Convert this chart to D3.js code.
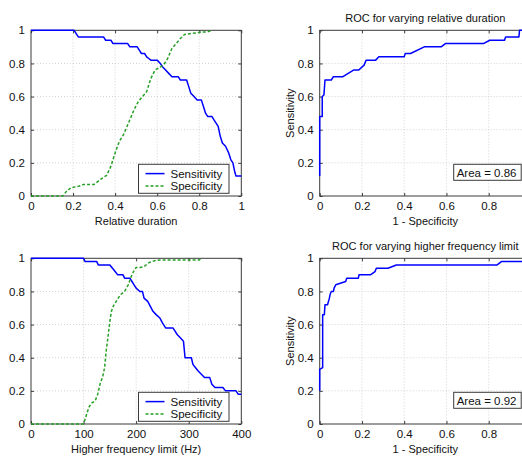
<!DOCTYPE html>
<html><head><meta charset="utf-8">
<script src="https://cdn.jsdelivr.net/npm/d3@7"></script>
<style>
body{margin:0;background:#fff}
svg{display:block;font-family:"Liberation Sans",Arial,Helvetica,sans-serif}
</style>
</head><body>
<svg id="chart" width="522" height="456"></svg>
<script>
// ---------- data ----------
const unitTicks = [0, 0.2, 0.4, 0.6, 0.8, 1];
const freqTicks = [0, 100, 200, 300, 400];

const durSensX = [0,0.205,0.225,0.345,0.355,0.38,0.39,0.46,0.47,0.505,0.515,0.525,0.54,0.55,0.56,0.57,0.60,0.615,0.625,0.64,0.655,0.67,0.70,0.71,0.74,0.75,0.76,0.775,0.79,0.81,0.82,0.83,0.84,0.86,0.87,0.88,0.89,0.90,0.91,0.925,0.94,0.95,0.96,0.97,0.975,1.0];
const durSensY = [1,1,0.96,0.96,0.94,0.94,0.92,0.92,0.90,0.90,0.88,0.86,0.86,0.84,0.83,0.82,0.82,0.80,0.78,0.76,0.74,0.72,0.72,0.70,0.70,0.66,0.62,0.60,0.58,0.58,0.54,0.50,0.48,0.48,0.46,0.44,0.42,0.36,0.32,0.30,0.26,0.22,0.20,0.14,0.12,0.12];

const durSpecX = [0,0.15,0.17,0.19,0.21,0.23,0.25,0.30,0.33,0.36,0.38,0.40,0.42,0.44,0.45,0.47,0.49,0.51,0.53,0.55,0.57,0.59,0.61,0.63,0.65,0.67,0.69,0.71,0.73,0.76,0.79,0.81,0.84,0.86];
const durSpecY = [0,0,0.03,0.05,0.055,0.06,0.07,0.07,0.10,0.125,0.18,0.26,0.33,0.37,0.40,0.46,0.52,0.57,0.60,0.63,0.71,0.76,0.775,0.79,0.83,0.89,0.92,0.95,0.975,0.98,0.985,0.99,0.99,1.0];

const freqSensX = [0,100,103,125,128,150,155,160,165,175,178,188,192,196,200,207,212,215,222,227,232,238,245,250,256,270,274,278,284,290,293,305,308,313,318,324,330,340,344,350,365,370,390,394,400];
const freqSensY = [1,1,0.98,0.98,0.96,0.96,0.94,0.92,0.90,0.90,0.88,0.88,0.86,0.84,0.82,0.80,0.80,0.76,0.74,0.71,0.68,0.66,0.64,0.61,0.58,0.58,0.56,0.54,0.52,0.50,0.40,0.40,0.36,0.34,0.32,0.30,0.28,0.28,0.24,0.22,0.22,0.20,0.20,0.18,0.18];

const freqSpecX = [0,100,105,110,115,122,127,132,136,140,143,147,150,153,157,163,170,178,185,190,195,200,207,215,225,235,245,320,325];
const freqSpecY = [0,0,0.05,0.10,0.125,0.14,0.18,0.25,0.28,0.34,0.44,0.54,0.62,0.68,0.715,0.745,0.78,0.80,0.84,0.885,0.92,0.945,0.945,0.95,0.975,0.985,0.99,0.99,1.0];

const rocDurX = [0,0,0.012,0.012,0.02,0.025,0.055,0.065,0.11,0.16,0.185,0.21,0.22,0.265,0.28,0.40,0.405,0.43,0.495,0.575,0.595,0.775,0.805,0.875,0.88,0.943,0.946,1.0];
const rocDurY = [0.12,0.48,0.48,0.60,0.61,0.70,0.70,0.72,0.72,0.76,0.76,0.79,0.82,0.82,0.84,0.84,0.86,0.86,0.90,0.90,0.92,0.92,0.94,0.94,0.96,0.96,1.0,1.0];

const rocFreqX = [0,0,0.014,0.014,0.022,0.025,0.037,0.045,0.05,0.055,0.065,0.068,0.076,0.123,0.128,0.183,0.186,0.24,0.262,0.268,0.323,0.363,0.84,0.86,1.0];
const rocFreqY = [0.20,0.33,0.34,0.66,0.66,0.72,0.72,0.755,0.785,0.80,0.80,0.82,0.84,0.86,0.88,0.88,0.90,0.90,0.92,0.94,0.94,0.96,0.96,0.98,0.98];

const areaDur = 0.86;
const areaFreq = 0.92;

// ---------- drawing ----------
const svg = d3.select("#chart");
const BLUE = "#0000ff", GREEN = "#27a027", BOX = "#3a3a3a";
const zip = (xs, ys) => xs.map((x, i) => [x, ys[i]]);
const fmt = d3.format("~g");

function panel(c) {
  const x = d3.scaleLinear().domain(c.xDomain).range([c.left, c.left + c.width]);
  const y = d3.scaleLinear().domain([0, 1]).range([c.top + c.height, c.top]);
  const g = svg.append("g");
  const xEdge = c.xDomain[1];

  g.append("rect").attr("x", c.left).attr("y", c.top).attr("width", c.width).attr("height", c.height)
    .attr("fill", "#fff");

  // grid
  g.selectAll(null).data(c.xTicks.slice(1, -1)).join("line")
    .attr("x1", d => x(d)).attr("x2", d => x(d)).attr("y1", c.top).attr("y2", c.top + c.height)
    .attr("stroke", "#c8c8c8").attr("stroke-width", 0.8).attr("stroke-dasharray", "1,2");
  g.selectAll(null).data(unitTicks.slice(1, -1)).join("line")
    .attr("y1", d => y(d)).attr("y2", d => y(d)).attr("x1", c.left).attr("x2", c.left + c.width)
    .attr("stroke", "#c8c8c8").attr("stroke-width", 0.8).attr("stroke-dasharray", "1,2");

  // axes (inward ticks, both sides)
  const tick = -3;
  // labels for ticks that fall outside the visible page are left blank
  const xFmt = d => (c.clipRight && d === xEdge) ? "" : fmt(d);
  g.append("g").attr("transform", `translate(0,${c.top + c.height})`)
    .call(d3.axisBottom(x).tickValues(c.xTicks).tickFormat(xFmt).tickSize(tick).tickPadding(6))
    .call(a => a.select(".domain").remove());
  g.append("g").attr("transform", `translate(0,${c.top})`)
    .call(d3.axisTop(x).tickValues(c.xTicks).tickFormat("").tickSize(tick))
    .call(a => a.select(".domain").remove());
  g.append("g").attr("transform", `translate(${c.left},0)`)
    .call(d3.axisLeft(y).tickValues(unitTicks).tickFormat(fmt).tickSize(tick).tickPadding(6))
    .call(a => a.select(".domain").remove());
  g.append("g").attr("transform", `translate(${c.left + c.width},0)`)
    .call(d3.axisRight(y).tickValues(unitTicks).tickFormat("").tickSize(tick))
    .call(a => a.select(".domain").remove());
  g.selectAll(".tick line").attr("stroke", BOX);
  g.selectAll(".tick text").attr("fill", "#111").style("font-size", "11.5px");

  g.append("rect").attr("x", c.left).attr("y", c.top).attr("width", c.width).attr("height", c.height)
    .attr("fill", "none").attr("stroke", BOX).attr("stroke-width", 1);

  // series
  const line = d3.line().x(d => x(d[0])).y(d => y(d[1]));
  c.series.forEach(s => {
    g.append("path").datum(zip(s.x, s.y)).attr("d", line)
      .attr("fill", "none").attr("stroke", s.color).attr("stroke-width", 1.5)
      .attr("stroke-linejoin", "round")
      .attr("stroke-dasharray", s.dash ? "3,2" : null);
  });

  // labels
  const cx = c.left + c.width / 2;
  g.append("text").attr("x", cx).attr("y", c.top + c.height + 28.5)
    .attr("text-anchor", "middle").style("font-size", "11px").attr("fill", "#111").text(c.xlabel);
  if (c.title) {
    g.append("text").attr("x", cx).attr("y", c.top - 8.5)
      .attr("text-anchor", "middle").style("font-size", "11px").attr("fill", "#111").text(c.title);
  }
  if (c.ylabel) {
    g.append("text").attr("transform", `translate(${c.left - 26},${c.top + c.height / 2}) rotate(-90)`)
      .attr("text-anchor", "middle").style("font-size", "11px").attr("fill", "#111").text(c.ylabel);
  }

  // legend
  if (c.legend) {
    const lx = c.left + 107.5, ly = c.top + 134;
    g.append("rect").attr("x", lx).attr("y", ly).attr("width", 90.5).attr("height", 29)
      .attr("fill", "#fff").attr("stroke", BOX).attr("stroke-width", 1);
    c.legend.forEach((s, i) => {
      const yy = ly + 9.3 + i * 12.4;
      g.append("line").attr("x1", lx + 7).attr("x2", lx + 26).attr("y1", yy).attr("y2", yy)
        .attr("stroke", s.color).attr("stroke-width", 1.5).attr("stroke-dasharray", s.dash ? "3,2" : null);
      g.append("text").attr("x", lx + 32).attr("y", yy).attr("dy", "0.35em")
        .style("font-size", "11.5px").attr("fill", "#111").text(s.name);
    });
  }

  // area annotation
  if (c.area != null) {
    const ax = c.left + 134, ay = c.top + 134;
    g.append("rect").attr("x", ax).attr("y", ay).attr("width", 67.5).attr("height", 16)
      .attr("fill", "#fff").attr("stroke", BOX).attr("stroke-width", 1);
    g.append("text").attr("x", ax + 3).attr("y", ay + 8.3).attr("dy", "0.35em")
      .style("font-size", "11.5px").attr("fill", "#111").text("Area = " + c.area.toFixed(2));
  }
}

const W = 210.3, H = 165.7;
const sensSpec = (sx, sy, px, py) => [
  { name: "Sensitivity", x: sx, y: sy, color: BLUE, dash: false },
  { name: "Specificity", x: px, y: py, color: GREEN, dash: true }
];

const s1 = sensSpec(durSensX, durSensY, durSpecX, durSpecY);
panel({ left: 31, top: 30.3, width: W, height: H, xDomain: [0, 1], xTicks: unitTicks,
  xlabel: "Relative duration", series: s1, legend: s1 });

panel({ left: 319.7, top: 30.3, width: 211.25, height: H, xDomain: [0, 1], xTicks: unitTicks, clipRight: true,
  title: "ROC for varying relative duration", xlabel: "1 - Specificity", ylabel: "Sensitivity",
  series: [{ x: rocDurX, y: rocDurY, color: BLUE }], area: areaDur });

const s2 = sensSpec(freqSensX, freqSensY, freqSpecX, freqSpecY);
panel({ left: 31, top: 258.3, width: W, height: H, xDomain: [0, 400], xTicks: freqTicks,
  xlabel: "Higher frequency limit (Hz)", series: s2, legend: s2 });

panel({ left: 319.7, top: 258.3, width: 211.25, height: H, xDomain: [0, 1], xTicks: unitTicks, clipRight: true,
  title: "ROC for varying higher frequency limit", xlabel: "1 - Specificity", ylabel: "Sensitivity",
  series: [{ x: rocFreqX, y: rocFreqY, color: BLUE }], area: areaFreq });
</script>
</body></html>
